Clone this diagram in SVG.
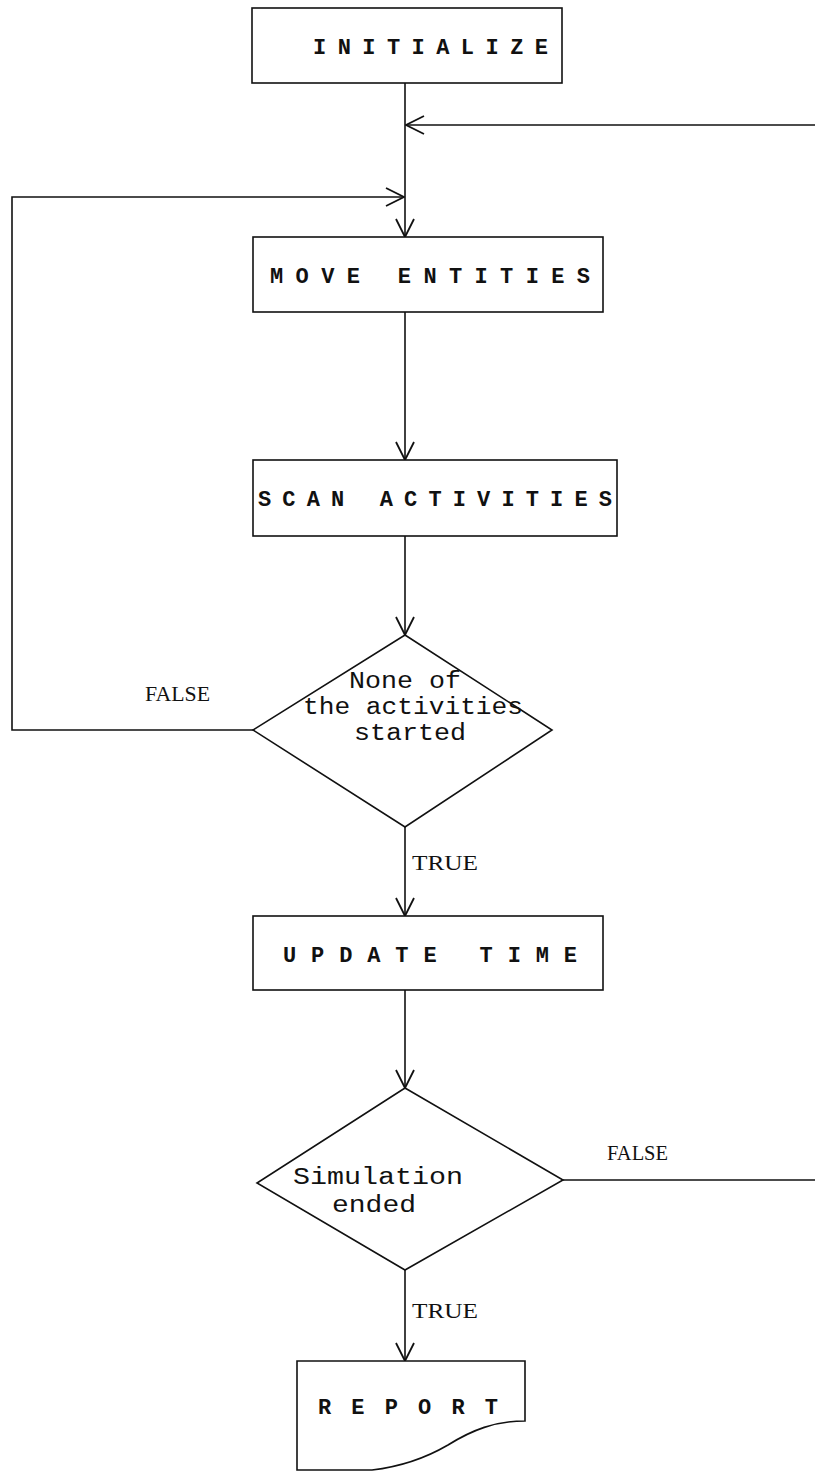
<svg xmlns="http://www.w3.org/2000/svg" width="815" height="1471" viewBox="0 0 815 1471">
<style>
.box{fill:#fff;stroke:#111;stroke-width:1.6}
.ln{fill:none;stroke:#111;stroke-width:1.6}
.t{font-family:"Liberation Mono","Courier New",monospace;font-size:22px;font-weight:bold;fill:#111;white-space:pre}
.d{font-family:"Liberation Mono","Courier New",monospace;font-size:23px;fill:#111;text-anchor:middle}
.l{font-family:"Liberation Serif","Liberation Mono",serif;font-size:21px;fill:#111}
</style>
<defs>
<marker id="ah" viewBox="0 0 20 20" refX="19" refY="10" markerWidth="20" markerHeight="20" markerUnits="userSpaceOnUse" orient="auto">
<path d="M1,1 L19,10 L1,19" fill="none" stroke="#111" stroke-width="1.8"/>
</marker>
</defs>
<rect width="815" height="1471" fill="#fff"/>
<g id="connectors">
<line class="ln" x1="405" y1="83" x2="405" y2="237" marker-end="url(#ah)"/>
<line class="ln" x1="815" y1="125" x2="406" y2="125" marker-end="url(#ah)"/>
<polyline class="ln" points="253,730 12,730 12,197 404,197" marker-end="url(#ah)"/>
<line class="ln" x1="405" y1="312" x2="405" y2="460" marker-end="url(#ah)"/>
<line class="ln" x1="405" y1="536" x2="405" y2="635" marker-end="url(#ah)"/>
<line class="ln" x1="405" y1="827" x2="405" y2="916" marker-end="url(#ah)"/>
<line class="ln" x1="405" y1="990" x2="405" y2="1088" marker-end="url(#ah)"/>
<line class="ln" x1="563" y1="1180" x2="815" y2="1180"/>
<line class="ln" x1="405" y1="1270" x2="405" y2="1361" marker-end="url(#ah)"/>
<text class="l" x="145" y="701" textLength="65" lengthAdjust="spacingAndGlyphs">FALSE</text>
<text class="l" x="412" y="870" textLength="66" lengthAdjust="spacingAndGlyphs">TRUE</text>
<text class="l" x="607" y="1160" textLength="61" lengthAdjust="spacingAndGlyphs">FALSE</text>
<text class="l" x="412" y="1318" textLength="66" lengthAdjust="spacingAndGlyphs">TRUE</text>
</g>
<g id="initialize">
<rect class="box" x="252" y="8" width="310" height="75"/>
<text class="t" x="313" y="54" textLength="235" lengthAdjust="spacing">I N I T I A L I Z E</text>
</g>
<g id="move-entities">
<rect class="box" x="253" y="237" width="350" height="75"/>
<text class="t" x="270" y="283" textLength="320" lengthAdjust="spacing">M O V E   E N T I T I E S</text>
</g>
<g id="scan-activities">
<rect class="box" x="253" y="460" width="364" height="76"/>
<text class="t" x="258" y="506" textLength="354" lengthAdjust="spacing">S C A N   A C T I V I T I E S</text>
</g>
<g id="none-started">
<polygon class="box" points="405,635 552,730 405,827 253,730"/>
<text class="d" x="405" y="688" textLength="112" lengthAdjust="spacingAndGlyphs">None of</text>
<text class="d" x="413" y="714" textLength="220" lengthAdjust="spacingAndGlyphs">the activities</text>
<text class="d" x="410" y="740" textLength="112" lengthAdjust="spacingAndGlyphs">started</text>
</g>
<g id="update-time">
<rect class="box" x="253" y="916" width="350" height="74"/>
<text class="t" x="283" y="962" textLength="294" lengthAdjust="spacing">U P D A T E   T I M E</text>
</g>
<g id="simulation-ended">
<polygon class="box" points="405,1088 563,1180 405,1270 257,1183"/>
<text class="d" x="378" y="1184" textLength="170" lengthAdjust="spacingAndGlyphs">Simulation</text>
<text class="d" x="374" y="1212" textLength="84" lengthAdjust="spacingAndGlyphs">ended</text>
</g>
<g id="report">
<path class="box" d="M297,1361 H525 V1421 C495,1421 472,1430 448,1445 C424,1459 398,1467 372,1470 L297,1470 Z"/>
<text class="t" x="318" y="1414" textLength="180" lengthAdjust="spacing">R E P O R T</text>
</g>
</svg>
